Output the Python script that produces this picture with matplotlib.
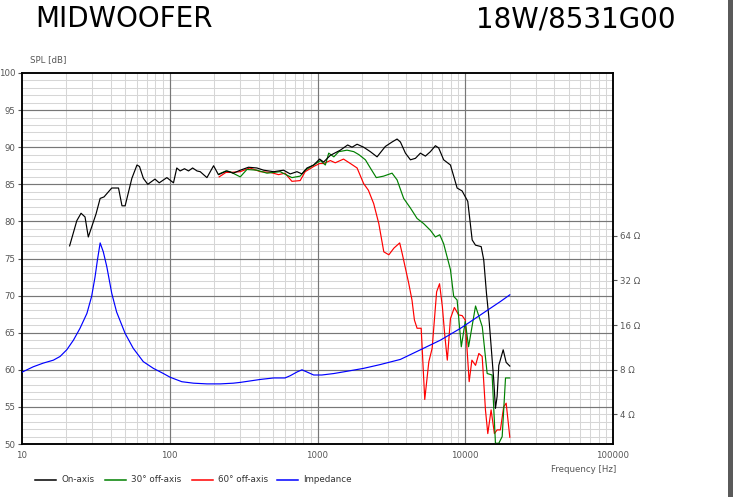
import matplotlib
matplotlib.use("Agg")
import matplotlib.pyplot as plt
from matplotlib.lines import Line2D
from matplotlib.patches import Rectangle
from matplotlib.ticker import FixedLocator, NullLocator

# ---------------- data ----------------
on_f = [21.0, 23.5, 25.1, 26.7, 28.1, 31.7, 33.8, 35.9, 40.5, 45.0, 47.5, 49.9, 55.4, 60.0, 62.4,
        66.3, 71.0, 79.4, 84.9, 95.6, 106, 111.6, 117.6, 125.8, 134, 142.8, 152.9, 160.8, 178.5,
        198, 213.5, 243, 269, 300, 341, 389, 432, 505, 589, 654, 726, 785, 849, 942, 1033, 1100,
        1221, 1427, 1600, 1713, 1853, 2052, 2278, 2530, 2878, 3196, 3455, 3641, 3936, 4255, 4600,
        4970, 5375, 5808, 6280, 6610, 7144, 7940, 8810, 9525, 10400, 11140, 11730, 12820, 13340,
        13920, 14430, 15030, 15590, 16010, 16430, 16870, 18060, 18920, 20030]
on_db = [76.7, 80.1, 81.1, 80.6, 77.9, 81.0, 83.1, 83.3, 84.5, 84.5, 82.1, 82.1, 85.8, 87.6, 87.4,
         85.8, 85.0, 85.7, 85.2, 85.9, 85.2, 87.2, 86.8, 87.1, 86.8, 87.2, 86.8, 86.7, 85.9,
         87.5, 86.3, 86.8, 86.5, 86.9, 87.3, 87.2, 86.9, 86.7, 86.9, 86.4, 86.7, 86.4, 87.2, 87.6,
         88.4, 88.0, 88.9, 89.6, 90.3, 90.0, 90.4, 90.0, 89.4, 88.7, 90.1, 90.7, 91.1, 90.7, 89.2,
         88.3, 88.5, 89.2, 88.8, 89.4, 90.2, 89.9, 88.3, 87.6, 84.5, 84.1, 82.7, 77.5, 76.8, 76.6,
         74.8, 70.3, 67.2, 62.7, 58.6, 54.8, 56.4, 60.6, 62.7, 61.0, 60.5]

off30_f = [216, 240, 256, 300, 333, 389, 455, 559, 671, 763, 825, 942, 1047, 1130, 1191, 1290,
           1394, 1585, 1760, 1905, 2110, 2278, 2500, 2800, 3196, 3455, 3830, 4255, 4720, 5230,
           5808, 6280, 6720, 7140, 7940, 8350, 8810, 9400, 10000, 10530, 11740, 13040, 14070,
           15200, 16010, 16870, 17780, 18730, 20030]
off30_db = [86.4, 86.8, 86.7, 86.0, 87.0, 86.9, 86.5, 86.7, 85.9, 86.1, 86.9, 87.6, 88.2, 87.6,
            89.2, 88.7, 89.4, 89.6, 89.4, 89.0, 88.3, 87.2, 85.9, 86.1, 86.5, 85.6, 83.1, 81.8,
            80.4, 79.7, 78.8, 77.9, 78.2, 77.0, 73.5, 69.9, 69.4, 63.1, 66.5, 63.1, 68.6, 65.8,
            59.5, 59.3, 50.1, 50.1, 51.0, 58.9, 58.9]

off60_f = [216, 240, 256, 300, 348, 411, 481, 545, 603, 671, 763, 825, 942, 1033, 1100, 1221,
           1319, 1500, 1670, 1853, 2052, 2210, 2400, 2600, 2810, 3040, 3290, 3600, 3740, 4140,
           4360, 4530, 4720, 5030, 5320, 5670, 5970, 6400, 6700, 7000, 7250, 7560, 7940, 8440,
           9020, 9530, 10000, 10260, 10630, 11090, 11740, 12360, 13020, 13700, 14210, 14960,
           15750, 16430, 17290, 18200, 18920, 20030]
off60_db = [86.0, 86.6, 86.6, 86.7, 87.2, 86.7, 86.6, 86.3, 86.5, 85.4, 85.5, 86.7, 87.4, 87.8,
            87.8, 88.2, 87.9, 88.4, 87.8, 87.2, 85.1, 84.2, 82.4, 79.7, 75.9, 75.5, 76.4, 77.1,
            75.7, 71.7, 69.4, 66.7, 65.6, 65.6, 56.0, 61.1, 62.9, 70.5, 71.6, 68.5, 64.9, 61.3,
            66.9, 68.4, 67.4, 67.3, 66.7, 63.1, 58.4, 61.3, 60.6, 62.2, 61.8, 54.6, 51.4, 54.6,
            51.4, 51.9, 51.9, 55.0, 55.5, 50.9]

imp_f = [10.05, 11.9, 13.9, 16.3, 18.1, 20.1, 22.3, 24.7, 27.5, 29.6, 31.2, 32.4, 33.8, 35.5,
         37.5, 40.5, 43.7, 49.9, 56.6, 66.2, 77.5, 90.6, 100.5, 120.7, 144.7, 178.5, 220, 269,
         300, 411, 505, 603, 654, 726, 785, 849, 942, 1070, 1290, 1585, 2050, 2650, 3640, 4980,
         6800, 9300, 12680, 17290, 20030]
imp_ohm = [7.73, 8.38, 8.87, 9.29, 9.84, 10.92, 12.68, 15.24, 19.19, 25.0, 33.7, 43.96, 57.3,
           49.9, 39.6, 26.2, 19.6, 14.06, 11.17, 9.08, 8.18, 7.55, 7.13, 6.65, 6.50, 6.43, 6.43,
           6.50, 6.58, 6.89, 7.05, 7.05, 7.30, 7.73, 8.0, 7.73, 7.38, 7.38, 7.55, 7.82, 8.18,
           8.67, 9.40, 10.92, 12.68, 15.24, 18.75, 23.07, 25.6]

x_ticks = [10, 100, 1000, 10000, 100000]
x_labels = ["10", "100", "1000", "10000", "100000"]
y_ticks = [50, 55, 60, 65, 70, 75, 80, 85, 90, 95, 100]
z_ticks = [4, 8, 16, 32, 64]
z_labels = ["4 \u03a9", "8 \u03a9", "16 \u03a9", "32 \u03a9", "64 \u03a9"]

# ---------------- figure ----------------
W, H = 733, 497
fig = plt.figure(figsize=(W / 100, H / 100), dpi=100)
fig.patch.set_facecolor("white")

ax = fig.add_axes([22 / W, (H - 444) / H, (613 - 22) / W, (444 - 73) / H])
ax.set_xscale("log")
ax.set_xlim(10, 100000)
ax.set_ylim(50, 100)

ax.xaxis.set_major_locator(FixedLocator(x_ticks))
ax.set_xticklabels(x_labels)
ax.xaxis.set_minor_locator(NullLocator())
ax.yaxis.set_major_locator(FixedLocator(y_ticks))
ax.yaxis.set_minor_locator(NullLocator())

# grid: minor lines first, major lines on top
minor_col, major_col = "#d6d6d6", "#777777"
for dec in [10, 100, 1000, 10000]:
    for m in range(2, 10):
        ax.axvline(dec * m, color=minor_col, lw=0.75, zorder=0.5)
for v in range(51, 100):
    if v % 5:
        ax.axhline(v, color=minor_col, lw=0.75, zorder=0.5)
for xt in x_ticks[1:-1]:
    ax.axvline(xt, color=major_col, lw=0.85, zorder=0.6)
for yt in y_ticks[1:-1]:
    ax.axhline(yt, color=major_col, lw=0.85, zorder=0.6)

lab_col = "#555555"
ax.tick_params(axis="x", which="both", length=0, pad=5, labelsize=6.2, labelcolor=lab_col)
ax.tick_params(axis="y", which="major", length=3, width=0.8, color="#555555", pad=1.5,
               labelsize=6.2, labelcolor=lab_col)

for s in ax.spines.values():
    s.set_color("black")
    s.set_linewidth(1.1)

ax.plot(on_f, on_db, color="black", lw=0.85, zorder=5)
ax.plot(off30_f, off30_db, color="#008000", lw=0.85, zorder=4)
ax.plot(off60_f, off60_db, color="#ff0000", lw=0.85, zorder=3)

ax2 = ax.twinx()
ax2.set_yscale("log")
ax2.set_ylim(8 * 10 ** (-0.5), 800)
ax2.yaxis.set_major_locator(FixedLocator(z_ticks))
ax2.set_yticklabels(z_labels)
ax2.yaxis.set_minor_locator(NullLocator())
ax2.tick_params(axis="y", which="major", length=3, width=0.8, color="#555555", pad=2,
                labelsize=6.2, labelcolor=lab_col)
for s in ax2.spines.values():
    s.set_color("black")
    s.set_linewidth(1.1)
ax2.plot(imp_f, imp_ohm, color="#0000ff", lw=0.85, zorder=6)

# ---------------- text ----------------
fig.text(35 / W, 1 - 27 / H, "MIDWOOFER", fontsize=20, color="black", va="baseline", ha="left")
fig.text(676 / W, 1 - 27 / H, "18W/8531G00", fontsize=20, color="black", va="baseline", ha="right")
fig.text(30 / W, 1 - 60 / H, "SPL [dB]", fontsize=6.2, color=lab_col, va="center", ha="left")
fig.text(616 / W, 1 - 469 / H, "Frequency [Hz]", fontsize=6.2, color=lab_col, va="center", ha="right")

# legend
leg = [("On-axis", "black", 35), ("30\u00b0 off-axis", "#008000", 105),
       ("60\u00b0 off-axis", "#ff0000", 192), ("Impedance", "#0000ff", 277)]
ly = 1 - 480 / H
for lab, col, x0 in leg:
    fig.add_artist(Line2D([x0 / W, (x0 + 21) / W], [ly, ly], transform=fig.transFigure,
                          color=col, lw=1.1))
    fig.text((x0 + 26) / W, ly, lab, fontsize=6.3, color="#333333", va="center", ha="left")

# right edge dark strip
fig.add_artist(Rectangle((728 / W, 0), 5 / W, 1, transform=fig.transFigure,
                         facecolor="#5a5a5a", edgecolor="none"))

fig.savefig("out.png", dpi=100)
